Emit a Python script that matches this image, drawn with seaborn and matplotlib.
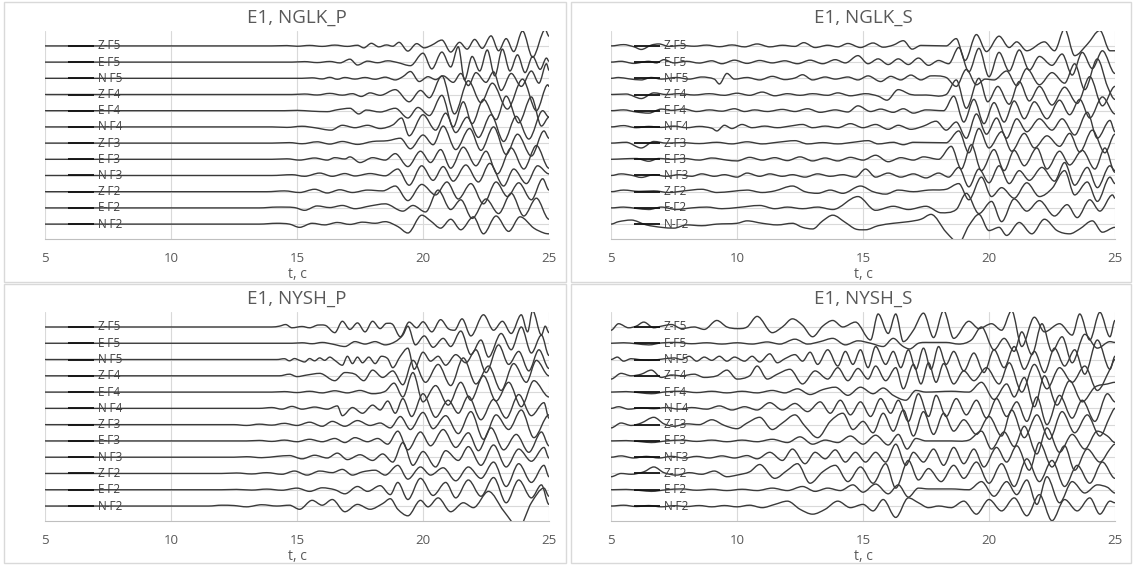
import numpy as np
import pandas as pd
import seaborn as sns
import matplotlib
matplotlib.use("Agg")
import matplotlib.pyplot as plt
from matplotlib.patches import Rectangle, PathPatch
from matplotlib.path import Path

# ---- labels -------------------------------------------------------------
components = ["Z-Г5", "E-Г5", "N-Г5", "Z-Г4", "E-Г4", "N-Г4",
              "Z-Г3", "E-Г3", "N-Г3", "Z-Г2", "E-Г2", "N-Г2"]
titles = ["E1, NGLK_P", "E1, NGLK_S", "E1, NYSH_P", "E1, NYSH_S"]
x_ticks = [5, 10, 15, 20, 25]
x_label = "t, с"

# ---- traces: (time, amplitude in units of trace spacing) ---------------
# E1, NGLK_P
p1_z5 = [(5,0),(14.0,0),(14.6,0.02),(15.0,-0.02),(15.5,0.03),(16.0,-0.03),(16.5,0.05),(17.0,-0.03),(17.4,0.04),(17.65,-0.12),(17.95,0.16),(18.25,-0.06),(18.55,0.06),(18.8,-0.02),(19.05,0.22),(19.4,-0.32),(19.75,0.14),(20.05,-0.12),(20.35,0.05),(20.75,0.36),(21.1,-0.38),(21.45,0.22),(21.75,-0.2),(22.05,0.4),(22.35,-0.15),(22.7,0.62),(23.0,-0.3),(23.3,0.45),(23.6,-0.35),(23.95,0.92),(24.35,-0.7),(24.85,1.0),(25.0,0.6)]
p1_e5 = [(5,0),(14.8,0),(15.3,0.03),(15.8,-0.03),(16.3,0.04),(16.7,-0.05),(17.1,0.18),(17.4,-0.18),(17.8,0.06),(18.2,-0.04),(18.6,0.08),(19.0,-0.03),(19.5,-0.22),(20.0,0.55),(20.35,-0.42),(20.75,0.62),(21.1,-0.3),(21.4,0.95),(21.65,-1.1),(21.95,0.35),(22.25,-0.55),(22.55,0.75),(22.85,-0.85),(23.15,0.8),(23.45,-0.55),(23.75,0.45),(24.05,-0.65),(24.35,0.35),(24.65,-0.45),(24.9,0.25),(25.0,0.05)]
p1_n5 = [(5,0),(15.2,0),(15.6,0.03),(16.0,-0.04),(16.3,0.06),(16.6,-0.06),(16.9,0.05),(17.3,-0.05),(17.7,0.05),(18.1,-0.06),(18.5,0.07),(18.9,-0.1),(19.2,0.1),(19.5,0.42),(19.85,-0.2),(20.2,0.1),(20.5,-0.08),(20.8,0.15),(21.2,-0.25),(21.5,0.3),(21.8,-0.45),(22.1,0.35),(22.5,-0.25),(22.8,0.4),(23.1,-0.75),(23.5,0.3),(23.9,-0.5),(24.3,0.45),(24.6,-0.3),(24.9,0.9),(25.0,0.5)]
p1_z4 = [(5,0),(14.8,0),(15.3,0.03),(15.8,-0.03),(16.3,0.07),(16.8,-0.04),(17.2,0.05),(17.55,-0.12),(17.9,0.1),(18.3,-0.05),(18.9,0.3),(19.45,-0.45),(19.9,0.25),(20.25,-0.2),(20.75,1.15),(21.25,-1.2),(21.8,0.85),(22.3,-0.5),(22.75,0.7),(23.35,-0.9),(23.95,0.95),(24.5,-1.0),(24.95,0.6),(25.0,0.5)]
p1_e4 = [(5,0),(14.5,0),(15.0,0.02),(15.6,-0.03),(16.2,-0.06),(16.6,0.06),(17.1,0.15),(17.45,-0.2),(17.75,0.04),(18.3,-0.08),(18.9,0.15),(19.4,-0.45),(19.8,0.2),(20.25,-0.3),(20.75,0.95),(21.2,-1.0),(21.6,0.55),(21.95,-0.8),(22.4,0.7),(22.9,-0.55),(23.3,0.9),(23.8,-0.75),(24.3,0.85),(24.7,-0.95),(25.0,-0.4)]
p1_n4 = [(5,0),(14.0,0),(14.6,-0.03),(15.2,0.04),(15.7,-0.05),(16.35,-0.2),(16.8,0.1),(17.3,-0.05),(17.8,0.1),(18.3,-0.1),(18.8,0.12),(19.15,0.55),(19.45,-0.55),(20.0,0.75),(20.5,-0.2),(20.9,0.85),(21.3,-0.35),(21.75,0.6),(22.2,-0.65),(22.7,0.75),(23.2,-0.9),(23.7,0.65),(24.2,-0.75),(24.75,1.0),(25.0,0.6)]
p1_z3 = [(5,0),(14.0,0),(14.7,0.03),(15.2,-0.04),(15.8,0.08),(16.3,-0.06),(16.8,0.1),(17.4,-0.08),(18.0,0.1),(18.6,0.15),(19.1,0.3),(19.5,-0.35),(20.0,0.5),(20.4,-0.1),(20.8,1.05),(21.3,-0.4),(21.85,0.9),(22.3,-0.45),(22.8,1.0),(23.3,-0.7),(23.75,0.55),(24.3,-0.8),(24.8,0.75),(25.0,0.3)]
p1_e3 = [(5,0),(14.0,0),(14.6,0.03),(15.1,-0.05),(15.7,0.08),(16.2,-0.05),(16.5,0.1),(16.9,0.02),(17.1,0.15),(17.5,-0.2),(18.0,0.1),(18.5,-0.05),(18.9,0.35),(19.4,-0.45),(19.9,0.5),(20.3,-0.2),(20.7,0.6),(21.1,-0.55),(21.6,0.75),(22.1,-0.4),(22.5,0.5),(22.95,-0.9),(23.5,0.7),(24.0,-0.6),(24.5,0.85),(25.0,-0.55)]
p1_n3 = [(5,0),(14.0,0),(14.8,0.05),(15.3,-0.05),(15.9,0.15),(16.4,-0.05),(16.9,0.12),(17.3,-0.03),(17.9,0.12),(18.5,-0.02),(19.0,0.4),(19.45,-0.6),(19.95,0.6),(20.4,-0.3),(20.8,0.55),(21.2,-0.35),(21.7,0.65),(22.2,-0.4),(22.65,0.75),(23.2,-0.65),(23.6,0.4),(24.1,-0.5),(24.55,0.6),(25.0,0.1)]
p1_z2 = [(5,0),(13.8,0),(14.5,0.05),(15.1,-0.05),(15.7,0.15),(16.2,-0.08),(16.7,0.12),(17.2,-0.05),(17.8,0.1),(18.4,0.05),(18.9,0.35),(19.4,-0.55),(19.95,0.45),(20.5,-0.2),(20.95,0.6),(21.4,-0.45),(21.9,0.5),(22.4,-0.75),(22.9,0.6),(23.35,-0.3),(23.8,0.55),(24.3,-0.5),(24.75,0.8),(25.0,0.1)]
p1_e2 = [(5,0),(13.5,0),(14.2,0.05),(14.9,0.02),(15.3,-0.15),(15.8,0.12),(16.3,0.02),(16.8,0.15),(17.3,-0.05),(17.9,0.12),(18.5,0.25),(19.2,-0.2),(19.6,0.15),(20.1,-0.25),(20.6,1.1),(21.1,-0.1),(21.5,0.5),(21.95,-0.65),(22.5,0.55),(23.0,-0.35),(23.5,0.9),(24.0,-0.5),(24.5,0.6),(25.0,-0.7)]
p1_n2 = [(5,0),(13.5,0),(14.2,0.05),(14.7,0.0),(15.1,-0.2),(15.6,0.05),(16.1,-0.05),(16.6,0.1),(17.1,-0.02),(17.6,0.12),(18.1,0.05),(18.5,0.15),(19.0,-0.15),(19.4,-0.55),(19.95,0.55),(20.3,0.2),(20.7,-0.25),(21.1,0.3),(21.5,-0.35),(22.0,0.45),(22.4,-0.6),(22.9,0.5),(23.4,-0.45),(23.85,0.45),(24.4,-0.25),(24.8,-0.55),(25.0,-0.6)]

# E1, NGLK_S
p2_z5 = [(5,0),(5.5,0.08),(5.9,-0.05),(6.2,-0.22),(6.6,0.05),(6.9,0.12),(7.3,-0.03),(7.8,0.03),(8.3,-0.02),(8.8,0.05),(9.3,-0.05),(9.8,0.06),(10.3,-0.06),(10.8,0.12),(11.3,-0.06),(11.8,0.04),(12.3,-0.03),(12.65,0.2),(13.1,-0.1),(13.6,0.04),(14.0,-0.06),(14.4,0.15),(14.9,-0.1),(15.4,0.18),(15.8,-0.08),(16.2,0.05),(16.6,0.32),(16.95,-0.2),(17.3,0.03),(18.3,0.0),(18.7,0.45),(19.05,-0.9),(19.5,0.7),(19.9,-0.35),(20.4,0.6),(20.8,-0.1),(21.1,0.25),(21.5,-0.3),(22.2,0.25),(22.6,-0.3),(23.0,1.05),(23.4,-0.6),(23.9,0.1),(24.4,0.95),(24.8,-0.3),(25.0,-0.3)]
p2_e5 = [(5,0),(5.4,0.05),(5.9,-0.08),(6.5,0.05),(6.8,-0.05),(7.1,0.15),(7.5,-0.05),(8.0,0.05),(8.5,-0.06),(9.0,0.08),(9.4,-0.1),(9.9,0.12),(10.4,-0.08),(10.9,0.1),(11.4,-0.05),(11.9,0.08),(12.4,-0.1),(12.9,0.12),(13.4,-0.1),(13.9,0.15),(14.3,-0.05),(14.8,0.4),(15.2,-0.1),(15.6,0.2),(16.0,-0.15),(16.4,0.2),(16.8,-0.15),(17.2,0.25),(17.6,-0.2),(18.0,0.1),(18.4,-0.1),(18.8,0.9),(19.2,-0.6),(19.6,0.85),(20.0,-0.9),(20.4,0.6),(20.8,-0.55),(21.2,0.75),(21.6,-0.5),(22.0,0.35),(22.5,-0.2),(22.9,0.5),(23.3,-0.8),(23.7,0.6),(24.1,-0.4),(24.5,0.7),(25.0,-0.7)]
p2_n5 = [(5,0),(5.3,0.05),(5.7,-0.03),(6.2,-0.1),(6.6,0.05),(7.0,-0.05),(7.6,0.05),(8.1,-0.05),(8.6,0.08),(9.1,-0.05),(9.3,-0.35),(9.6,0.3),(9.9,-0.05),(10.4,0.05),(10.9,-0.1),(11.4,0.12),(11.9,-0.08),(12.3,0.02),(12.6,0.22),(13.0,-0.1),(13.5,0.08),(13.9,-0.05),(14.4,0.08),(14.8,-0.1),(15.2,0.15),(15.7,-0.2),(16.1,0.12),(16.5,-0.1),(16.9,0.2),(17.3,-0.1),(17.7,0.15),(18.3,0.05),(18.7,-0.5),(19.1,0.55),(19.5,-0.4),(19.85,-0.05),(20.2,-0.1),(20.7,0.45),(21.1,-0.45),(21.5,0.6),(22.0,-0.4),(22.5,0.35),(23.0,-0.3),(23.4,0.9),(23.8,-0.7),(24.3,1.2),(24.7,-0.5),(25.0,-1.3)]
p2_z4 = [(5,0),(5.6,0.03),(6.2,-0.25),(6.7,0.1),(7.2,0.0),(7.7,0.05),(8.3,-0.03),(8.9,0.05),(9.5,-0.05),(10.0,0.08),(10.5,-0.05),(11.0,0.15),(11.5,-0.08),(12.0,0.05),(12.5,-0.05),(13.0,0.05),(13.6,-0.05),(14.0,0.1),(14.5,-0.08),(15.1,0.05),(15.6,-0.1),(15.95,-0.35),(16.4,0.3),(16.9,0.0),(17.5,-0.03),(18.3,0.0),(18.7,0.9),(19.1,-0.85),(19.6,1.0),(19.95,-0.45),(20.35,0.5),(20.8,-0.6),(21.2,0.8),(21.6,-0.4),(22.0,0.5),(22.5,-0.65),(23.0,0.45),(23.5,-0.55),(24.0,1.1),(24.5,-0.7),(25.0,0.5)]
p2_e4 = [(5,0),(5.5,0.05),(6.0,-0.08),(6.5,-0.15),(7.0,0.1),(7.4,0.02),(7.9,0.1),(8.4,-0.05),(8.9,0.05),(9.4,-0.03),(9.9,0.12),(10.3,-0.05),(10.7,0.05),(11.2,-0.05),(11.8,0.08),(12.3,-0.05),(12.8,0.12),(13.3,-0.1),(13.9,0.05),(14.4,-0.08),(14.8,0.3),(15.3,-0.05),(15.7,0.1),(16.2,-0.1),(16.6,0.12),(17.0,-0.15),(17.5,0.05),(18.2,0.0),(18.6,0.9),(19.0,-0.7),(19.4,0.7),(19.8,-0.8),(20.2,0.5),(20.6,-0.7),(21.0,0.6),(21.4,-0.5),(21.8,0.55),(22.3,-0.5),(22.8,0.65),(23.2,-0.25),(23.6,0.7),(24.0,-0.45),(24.5,0.85),(25.0,-0.2)]
p2_n4 = [(5,0),(5.5,0.08),(6.0,-0.05),(6.5,0.03),(7.0,-0.03),(7.5,0.05),(8.0,-0.05),(8.5,0.03),(9.0,-0.08),(9.2,-0.25),(9.5,0.1),(9.8,-0.1),(10.2,0.15),(10.6,-0.05),(11.1,0.05),(11.6,-0.05),(12.1,0.05),(12.6,0.15),(13.0,-0.05),(13.5,0.05),(14.0,-0.05),(14.5,0.2),(15.0,-0.05),(15.5,0.15),(16.0,-0.15),(16.4,0.1),(16.9,-0.15),(17.4,0.05),(17.9,0.35),(18.3,-0.2),(18.7,0.3),(19.1,-0.7),(19.5,0.8),(19.9,-0.45),(20.3,0.55),(20.7,-0.7),(21.1,0.5),(21.5,-0.3),(22.0,0.5),(22.5,-0.2),(22.9,0.5),(23.4,-0.5),(23.9,0.9),(24.3,-0.7),(24.8,0.4),(25.0,-0.3)]
p2_z3 = [(5,0),(5.6,0.05),(6.2,-0.3),(6.7,0.1),(7.2,0.0),(7.8,0.03),(8.5,-0.03),(9.2,0.05),(9.8,-0.05),(10.4,0.08),(11.0,-0.05),(11.6,0.05),(12.3,0.15),(12.8,-0.05),(13.4,0.03),(14.0,-0.05),(14.6,0.05),(15.2,0.15),(15.6,-0.05),(16.2,0.05),(16.6,-0.1),(17.0,0.05),(18.3,0.02),(18.8,0.75),(19.2,-0.6),(19.6,0.9),(20.0,-0.3),(20.5,0.7),(20.9,-0.5),(21.4,0.6),(21.8,-0.3),(22.3,0.45),(22.8,-0.2),(23.2,0.6),(23.6,-0.55),(24.1,0.8),(24.6,-0.6),(25.0,0.55)]
p2_e3 = [(5,0),(5.5,0.03),(6.0,0.05),(6.5,-0.12),(6.9,0.05),(7.4,0.0),(7.9,0.05),(8.5,-0.05),(9.0,0.08),(9.6,-0.05),(10.0,-0.1),(10.5,0.12),(11.0,-0.05),(11.5,0.1),(12.0,-0.08),(12.5,0.15),(13.0,-0.1),(13.5,0.08),(14.0,-0.1),(14.5,0.12),(15.0,-0.05),(15.5,0.25),(16.0,-0.15),(16.5,0.1),(17.0,-0.05),(17.4,0.15),(18.0,0.0),(18.5,0.8),(18.9,-0.6),(19.3,0.9),(19.7,-0.7),(20.2,0.6),(20.6,-0.7),(21.0,0.55),(21.4,-0.4),(21.9,0.7),(22.3,-0.6),(22.8,0.5),(23.2,-0.35),(23.7,0.55),(24.2,-0.6),(24.6,0.7),(25.0,-0.8)]
p2_n3 = [(5,0),(5.4,0.1),(5.8,0.02),(6.2,-0.12),(6.7,0.05),(7.2,-0.05),(7.7,0.05),(8.2,-0.05),(8.6,0.1),(9.1,-0.05),(9.5,0.05),(10.0,-0.1),(10.4,0.15),(10.9,-0.05),(11.3,0.1),(11.8,-0.05),(12.2,0.05),(12.7,-0.1),(13.2,0.1),(13.7,-0.05),(14.2,0.05),(14.7,-0.1),(15.1,0.4),(15.5,-0.1),(16.0,0.15),(16.5,-0.1),(17.0,0.1),(17.5,-0.15),(18.0,0.15),(18.4,-0.1),(18.8,0.5),(19.2,-0.7),(19.6,0.4),(20.0,-0.45),(20.4,0.6),(20.8,-0.5),(21.2,0.3),(21.6,-0.3),(22.1,0.5),(22.6,-0.35),(23.0,0.8),(23.4,-0.6),(23.9,0.5),(24.3,-0.75),(24.8,0.6),(25.0,0.3)]
p2_z2 = [(5,0),(5.5,0.1),(6.1,0.02),(6.7,0.05),(7.3,-0.05),(7.9,0.05),(8.6,0.15),(9.2,-0.05),(9.8,0.02),(10.4,0.1),(11.0,-0.05),(11.5,0.05),(12.2,0.35),(12.7,0.0),(13.2,-0.1),(13.7,0.1),(14.2,-0.1),(14.9,0.35),(15.4,0.0),(15.9,-0.15),(16.4,0.1),(17.0,0.0),(17.6,0.1),(18.3,0.15),(18.8,0.5),(19.2,-0.5),(19.7,0.9),(20.1,-0.3),(20.5,0.25),(21.0,-0.4),(21.5,0.55),(22.0,-0.3),(22.5,0.2),(23.0,1.3),(23.4,-0.2),(23.9,0.6),(24.3,-0.6),(24.8,0.9),(25.0,0.5)]
p2_e2 = [(5,0),(5.5,0.05),(6.0,-0.03),(6.5,-0.1),(7.0,0.05),(7.6,-0.1),(8.2,0.0),(8.8,0.05),(9.4,-0.05),(10.0,0.02),(10.9,0.15),(11.5,-0.05),(12.0,0.05),(12.6,-0.05),(13.2,0.05),(13.8,-0.1),(14.8,0.7),(15.5,-0.15),(16.2,0.1),(16.8,-0.1),(17.5,0.1),(18.1,-0.3),(18.7,-0.1),(19.1,0.9),(19.6,-0.35),(20.1,0.4),(20.5,-0.85),(21.0,0.55),(21.5,-0.2),(22.0,0.45),(22.6,-0.5),(23.1,0.2),(23.5,-0.6),(24.0,0.5),(24.4,-0.2),(24.9,0.8),(25.0,0.6)]
p2_n2 = [(5,0),(5.3,0.15),(5.8,0.25),(6.4,-0.05),(7.0,-0.2),(7.5,-0.25),(8.0,-0.05),(8.6,-0.1),(9.2,0.0),(10.0,0.05),(10.4,0.2),(11.0,0.05),(11.6,-0.05),(12.2,0.05),(12.6,-0.2),(13.0,-0.3),(13.4,0.2),(13.8,0.55),(14.3,0.1),(14.7,-0.3),(15.1,-0.35),(15.6,-0.1),(16.2,0.05),(16.8,0.15),(17.3,0.3),(17.7,0.6),(18.3,-0.5),(18.8,-1.15),(19.2,-0.1),(19.6,0.6),(20.0,-0.4),(20.4,-0.2),(20.7,-0.7),(21.2,0.1),(21.7,-0.6),(22.2,0.3),(22.7,-0.4),(23.2,-0.6),(23.6,-0.3),(24.1,0.2),(24.5,-0.5),(25.0,-0.2)]

# E1, NYSH_P
p3_z5 = [(5,0),(14.0,0),(14.3,0.05),(14.55,0.15),(14.8,-0.05),(15.2,0.03),(15.5,-0.05),(15.85,0.12),(16.15,0.08),(16.5,-0.35),(16.8,0.35),(17.1,-0.15),(17.4,0.25),(17.7,-0.3),(18.0,0.35),(18.3,-0.1),(18.55,0.22),(18.8,0.15),(19.1,-0.6),(19.45,0.3),(19.75,-0.05),(20.0,0.32),(20.35,-0.3),(20.7,0.45),(21.0,-0.1),(21.25,-0.2),(21.55,0.5),(21.9,-0.55),(22.4,0.75),(22.8,-0.2),(23.15,0.35),(23.5,-0.4),(23.9,0.75),(24.15,-0.3),(24.35,1.0),(24.7,-0.5),(24.85,0.05),(25.0,-0.35)]
p3_e5 = [(5,0),(14.8,0),(15.2,0.03),(15.6,-0.03),(16.0,0.05),(16.4,-0.05),(16.9,-0.2),(17.3,0.1),(17.7,-0.05),(18.1,0.1),(18.5,-0.1),(18.9,0.1),(19.2,0.5),(19.4,1.05),(19.7,-0.1),(20.05,0.45),(20.4,-0.25),(20.8,0.3),(21.1,-0.2),(21.5,0.75),(21.9,-0.7),(22.3,0.2),(22.6,-0.85),(23.1,0.6),(23.5,-0.4),(23.9,1.0),(24.3,-0.6),(24.7,0.5),(25.0,-0.75)]
p3_n5 = [(5,0),(14.2,0),(14.5,0.05),(14.7,-0.08),(14.9,0.06),(15.1,-0.05),(15.3,-0.15),(15.5,0.06),(15.7,-0.08),(15.9,0.1),(16.1,-0.05),(16.3,0.15),(16.5,-0.05),(16.8,-0.35),(17.0,0.2),(17.2,-0.25),(17.4,0.15),(17.6,-0.2),(17.85,0.15),(18.1,-0.25),(18.35,0.2),(18.6,0.05),(18.8,-0.5),(19.1,0.2),(19.4,0.7),(19.65,-0.6),(20.0,0.45),(20.3,-0.1),(20.6,0.2),(20.9,-0.35),(21.3,0.3),(21.7,-0.2),(22.1,0.6),(22.5,-0.8),(23.0,0.9),(23.4,-0.3),(23.8,0.5),(24.2,-0.7),(24.6,0.6),(25.0,-0.55)]
p3_z4 = [(5,0),(14.3,0),(14.7,0.1),(15.0,-0.05),(15.4,0.05),(15.9,0.15),(16.5,-0.3),(16.9,0.2),(17.3,0.1),(17.65,-0.3),(18.0,0.35),(18.4,-0.1),(18.8,0.3),(19.2,-0.55),(19.6,0.95),(20.1,-0.4),(20.6,0.7),(21.1,-0.6),(21.6,1.1),(22.1,-0.5),(22.6,0.6),(23.1,-0.9),(23.6,0.75),(24.1,-0.4),(24.5,0.95),(25.0,0.0)]
p3_e4 = [(5,0),(14.0,0),(14.5,0.03),(15.0,-0.03),(15.5,0.05),(16.0,-0.05),(16.5,0.08),(17.0,-0.05),(17.5,0.1),(18.0,-0.1),(18.5,0.05),(18.85,0.55),(19.2,-0.3),(19.6,1.2),(20.0,-0.6),(20.5,0.4),(21.0,-0.8),(21.5,0.6),(21.9,-0.5),(22.4,1.0),(22.9,-0.55),(23.4,0.6),(23.9,-0.9),(24.4,0.7),(25.0,-0.3)]
p3_n4 = [(5,0),(13.5,0),(14.0,0.05),(14.4,-0.05),(14.8,0.12),(15.2,-0.05),(15.7,0.08),(16.2,-0.05),(16.6,0.15),(16.8,-0.45),(17.2,0.05),(17.6,-0.3),(18.0,0.2),(18.3,-0.1),(18.6,0.45),(18.9,-0.3),(19.2,0.6),(19.55,-0.5),(20.0,0.9),(20.5,-0.55),(21.0,0.5),(21.4,-0.3),(21.8,0.75),(22.3,-0.7),(22.8,0.55),(23.3,-0.6),(23.8,0.85),(24.3,-0.45),(24.8,0.35),(25.0,-0.6)]
p3_z3 = [(5,0),(12.5,0),(13.0,-0.05),(13.5,0.03),(14.0,-0.03),(14.5,0.08),(15.0,-0.05),(15.5,0.15),(16.0,-0.1),(16.4,0.2),(16.9,-0.1),(17.4,0.25),(17.9,-0.05),(18.3,0.1),(18.7,-0.2),(19.1,0.5),(19.5,-0.3),(20.0,0.75),(20.4,-0.25),(20.9,0.55),(21.4,-0.55),(21.9,0.8),(22.4,-0.9),(22.9,0.6),(23.4,-0.3),(23.9,0.9),(24.4,-0.8),(25.0,0.6)]
p3_e3 = [(5,0),(13.0,0),(13.5,0.03),(14.0,-0.03),(14.5,0.05),(15.0,-0.05),(15.5,0.1),(16.0,-0.05),(16.5,0.15),(16.9,-0.1),(17.3,0.2),(17.8,-0.05),(18.2,0.15),(18.6,-0.2),(19.0,0.6),(19.4,-0.55),(19.9,0.55),(20.3,-0.3),(20.8,0.7),(21.3,-0.4),(21.8,0.5),(22.2,-0.6),(22.7,0.8),(23.2,-0.55),(23.7,0.4),(24.2,-0.7),(24.7,0.55),(25.0,-0.3)]
p3_n3 = [(5,0),(12.5,0),(13.0,0.03),(13.6,-0.03),(14.2,0.05),(14.7,0.1),(15.2,-0.1),(15.7,0.12),(16.2,-0.05),(16.6,0.25),(17.0,-0.15),(17.5,0.15),(18.0,-0.2),(18.4,0.2),(18.8,-0.3),(19.2,0.9),(19.6,-0.5),(20.0,0.35),(20.5,-0.6),(20.9,0.4),(21.4,-0.2),(21.8,0.65),(22.3,-0.5),(22.8,0.75),(23.3,-0.6),(23.8,0.5),(24.3,-0.25),(24.8,0.6),(25.0,-0.05)]
p3_z2 = [(5,0),(12.0,0),(12.6,0.03),(13.2,-0.03),(13.8,0.05),(14.4,-0.05),(14.9,0.15),(15.4,-0.1),(15.9,0.15),(16.4,0.05),(16.8,0.25),(17.2,-0.1),(17.6,0.1),(18.1,0.2),(18.5,-0.1),(19.0,0.5),(19.4,-0.35),(19.9,0.4),(20.3,-0.1),(20.8,0.35),(21.3,-0.45),(21.8,0.4),(22.3,-0.3),(22.8,0.7),(23.3,-0.8),(23.8,0.6),(24.3,-0.55),(24.8,0.5),(25.0,-0.2)]
p3_e2 = [(5,0),(12.0,0),(12.6,0.02),(13.2,-0.02),(13.8,0.04),(14.4,-0.03),(15.0,0.1),(15.5,-0.1),(16.0,0.12),(16.5,0.0),(16.9,-0.25),(17.4,0.2),(17.8,-0.1),(18.3,0.25),(18.7,-0.3),(19.0,0.45),(19.4,-0.6),(19.9,0.7),(20.4,-0.35),(20.9,0.45),(21.3,-0.5),(21.8,0.6),(22.3,-0.4),(22.8,0.75),(23.3,-0.8),(23.8,0.6),(24.3,-0.5),(24.7,0.3),(25.0,-0.9)]
p3_n2 = [(5,0),(11.5,0),(12.0,0.05),(12.5,0.03),(13.0,-0.05),(13.6,0.08),(14.2,0.0),(14.7,0.05),(15.1,-0.2),(15.6,0.35),(16.0,0.05),(16.4,0.4),(16.9,-0.35),(17.4,0.1),(17.9,-0.2),(18.4,0.15),(18.7,0.45),(19.0,-0.2),(19.4,-0.6),(19.9,0.35),(20.2,-0.05),(20.6,0.5),(21.1,-0.35),(21.6,0.2),(22.0,-0.1),(22.6,0.9),(23.2,-0.3),(23.8,-1.3),(24.3,0.2),(24.8,1.1),(25.0,0.6)]

# E1, NYSH_S
p4_z5 = [(5,-0.2),(5.3,0.2),(5.7,-0.05),(6.0,0.05),(6.3,0.3),(6.7,-0.05),(7.0,0.05),(7.4,0.15),(7.8,-0.1),(8.3,0.0),(8.7,-0.15),(9.2,0.4),(9.6,0.0),(10.0,-0.1),(10.4,0.0),(10.8,0.65),(11.4,-0.35),(11.8,0.0),(12.2,0.5),(12.6,0.1),(13.0,-0.6),(13.4,0.05),(13.8,0.4),(14.2,0.0),(14.7,0.3),(15.3,-0.8),(15.6,0.8),(16.0,-0.4),(16.3,0.8),(16.6,-0.9),(17.0,-0.2),(17.4,0.85),(17.8,-0.65),(18.2,1.0),(18.6,-0.7),(19.2,0.35),(19.6,-0.1),(20.1,0.2),(20.5,-0.2),(20.9,1.0),(21.3,-1.2),(21.8,0.6),(22.2,-0.3),(22.8,0.2),(23.3,-0.5),(23.6,0.8),(24.0,-0.8),(24.4,0.9),(24.8,-0.6),(25.0,0.4)]
p4_e5 = [(5,0),(5.5,0.03),(6.0,-0.03),(6.5,-0.1),(7.0,0.02),(7.6,0.05),(8.2,-0.03),(8.8,0.03),(9.4,-0.05),(10.0,0.03),(10.6,-0.05),(11.2,0.08),(11.7,-0.05),(12.3,0.25),(12.8,-0.05),(13.3,0.1),(13.8,0.3),(14.3,-0.1),(14.8,0.15),(15.3,0.0),(15.8,-0.2),(16.2,0.3),(16.55,-0.15),(16.85,-0.35),(17.2,0.0),(17.6,0.05),(18.3,0.05),(18.8,-0.05),(19.3,0.2),(19.7,1.0),(20.2,-0.4),(20.6,0.3),(21.0,-0.5),(21.3,0.7),(21.7,-0.7),(22.1,1.2),(22.5,-0.5),(22.9,0.4),(23.3,-1.2),(23.8,0.55),(24.3,-0.3),(24.8,0.1),(25.0,0.05)]
p4_n5 = [(5,0),(5.25,0.15),(5.5,-0.1),(5.8,0.05),(6.1,0.0),(6.5,-0.05),(7.0,0.02),(7.5,0.1),(7.8,0.0),(8.1,0.2),(8.4,-0.1),(8.7,0.15),(9.0,-0.05),(9.3,0.2),(9.6,-0.1),(9.9,0.15),(10.3,-0.1),(10.6,0.2),(10.9,-0.15),(11.3,0.35),(11.6,-0.2),(11.9,0.05),(12.3,0.3),(12.6,-0.1),(12.9,0.45),(13.2,-0.3),(13.6,0.6),(14.0,-0.4),(14.3,0.5),(14.6,-0.3),(14.9,0.6),(15.2,-0.5),(15.5,0.8),(15.9,-0.3),(16.2,0.5),(16.5,-0.5),(16.8,0.6),(17.1,-0.6),(17.4,0.7),(17.7,-0.6),(18.0,0.8),(18.3,-0.3),(18.6,0.5),(19.0,-0.7),(19.4,0.4),(19.8,-0.8),(20.2,0.6),(20.6,-0.5),(21.0,0.8),(21.4,-0.6),(21.8,0.5),(22.2,-0.8),(22.6,0.7),(23.0,-0.4),(23.4,0.6),(23.8,-0.9),(24.3,1.2),(24.8,-0.6),(25.0,0.2)]
p4_z4 = [(5,-0.2),(5.4,0.15),(5.8,0.0),(6.2,0.1),(6.6,0.35),(7.0,-0.1),(7.4,0.05),(7.8,0.0),(8.3,0.1),(8.7,-0.1),(9.2,0.0),(9.6,0.35),(10.0,-0.2),(10.5,0.0),(10.8,0.6),(11.2,-0.2),(11.6,0.1),(12.1,0.4),(12.6,-0.5),(13.1,0.3),(13.6,-0.2),(14.0,0.5),(14.4,-0.3),(14.8,0.45),(15.2,-0.2),(15.5,0.6),(15.9,-0.3),(16.3,0.5),(16.6,-0.8),(17.0,0.7),(17.3,-0.5),(17.6,0.8),(17.9,-0.4),(18.2,0.75),(18.6,-0.5),(19.0,0.3),(19.4,-0.3),(19.9,0.5),(20.4,-0.5),(20.8,0.8),(21.3,-1.0),(21.8,0.7),(22.3,-0.8),(22.8,0.5),(23.3,-0.4),(23.8,0.6),(24.3,-0.9),(24.8,0.4),(25.0,1.0)]
p4_e4 = [(5,0),(5.6,0.03),(6.2,-0.05),(6.6,-0.1),(7.2,0.02),(7.8,0.05),(8.4,-0.03),(9.0,0.05),(9.6,-0.05),(10.2,0.05),(10.8,-0.05),(11.4,0.1),(11.9,-0.05),(12.4,0.2),(12.9,-0.15),(13.4,0.15),(13.9,0.3),(14.4,-0.2),(14.9,0.3),(15.4,-0.1),(15.8,0.25),(16.2,-0.2),(16.7,-0.5),(17.1,0.1),(17.5,0.0),(18.5,0.05),(19.2,0.0),(19.7,0.6),(20.2,-0.45),(20.7,0.5),(21.0,-0.3),(21.4,0.9),(21.8,-0.9),(22.2,1.0),(22.7,-0.8),(23.2,0.7),(23.7,-0.6),(24.2,0.3),(24.7,0.5),(25.0,0.6)]
p4_n4 = [(5,0),(5.3,0.1),(5.7,-0.05),(6.2,0.03),(6.7,-0.02),(7.2,0.05),(7.7,-0.05),(8.2,0.05),(8.8,-0.05),(9.3,0.15),(9.8,-0.1),(10.3,0.1),(10.8,-0.1),(11.3,0.35),(11.8,-0.1),(12.3,0.3),(12.8,-0.2),(13.3,0.4),(13.7,-0.3),(14.1,0.5),(14.5,-0.4),(14.9,0.4),(15.3,-0.5),(15.7,0.6),(16.1,-0.3),(16.4,0.5),(16.8,-0.8),(17.2,0.9),(17.6,-0.5),(17.9,0.8),(18.3,-0.5),(18.7,0.6),(19.1,-0.4),(19.5,0.5),(19.9,-0.6),(20.3,0.6),(20.7,-0.5),(21.1,0.4),(21.5,-0.8),(21.9,0.7),(22.3,-1.0),(22.8,0.8),(23.3,-0.6),(23.7,0.5),(24.2,-0.8),(24.7,0.9),(25.0,0.4)]
p4_z3 = [(5,-0.2),(5.4,0.1),(5.8,-0.05),(6.2,0.1),(6.7,0.45),(7.1,0.05),(7.5,-0.1),(8.0,0.05),(8.5,0.0),(9.0,0.3),(9.5,-0.05),(10.0,-0.25),(10.4,0.1),(10.9,0.45),(11.4,-0.3),(11.8,0.1),(12.3,0.6),(12.7,-0.1),(13.2,-0.8),(13.7,0.2),(14.2,0.7),(14.6,-0.3),(15.0,0.2),(15.4,-0.5),(15.8,0.7),(16.2,-0.4),(16.6,0.9),(17.0,-0.7),(17.4,0.8),(17.8,-0.6),(18.2,0.7),(18.6,-0.4),(19.0,0.3),(19.5,-0.6),(20.0,0.5),(20.5,-0.7),(20.9,0.9),(21.4,-0.8),(21.9,0.6),(22.4,-0.9),(22.9,0.8),(23.4,-0.5),(23.9,0.6),(24.4,-0.7),(24.8,0.5),(25.0,1.0)]
p4_e3 = [(5,0),(5.6,0.02),(6.2,-0.05),(6.6,-0.1),(7.2,0.0),(7.8,0.05),(8.4,-0.03),(9.0,0.05),(9.6,-0.05),(10.2,0.05),(10.8,-0.05),(11.4,0.1),(12.0,-0.1),(12.5,0.25),(13.0,-0.2),(13.5,0.05),(14.0,-0.1),(14.5,0.3),(15.0,-0.2),(15.5,0.35),(16.0,-0.25),(16.4,0.4),(16.75,-0.5),(17.1,0.15),(17.5,0.0),(18.5,0.0),(19.2,0.05),(19.7,0.6),(20.1,-0.5),(20.6,0.55),(21.0,-0.35),(21.4,0.9),(21.9,-0.8),(22.3,0.8),(22.8,-0.7),(23.3,0.4),(23.8,-0.5),(24.3,0.6),(24.7,0.3),(25.0,-0.1)]
p4_n3 = [(5,0),(5.4,0.08),(5.9,-0.05),(6.4,0.05),(6.9,-0.05),(7.4,0.05),(7.9,-0.05),(8.4,0.05),(8.9,-0.05),(9.4,0.08),(9.9,-0.05),(10.4,0.1),(10.8,-0.1),(11.3,0.3),(11.8,-0.2),(12.2,0.5),(12.7,-0.4),(13.1,0.3),(13.5,-0.1),(13.9,0.45),(14.3,-0.3),(14.7,0.3),(15.1,-0.3),(15.5,0.3),(15.9,-0.3),(16.3,0.8),(16.7,-0.5),(17.0,0.3),(17.4,-0.3),(17.8,0.5),(18.2,-0.5),(18.6,0.6),(19.0,-0.4),(19.4,0.5),(19.8,-0.6),(20.3,0.6),(20.7,-0.3),(21.1,0.7),(21.6,-0.8),(22.0,0.9),(22.5,-0.6),(23.0,0.7),(23.4,-0.8),(23.9,0.5),(24.4,-0.3),(24.8,0.5),(25.0,0.8)]
p4_z2 = [(5,-0.2),(5.4,0.0),(5.8,-0.05),(6.3,0.1),(6.7,0.4),(7.1,0.05),(7.6,-0.1),(8.1,0.05),(8.6,-0.05),(9.1,0.15),(9.6,-0.2),(10.0,-0.1),(10.5,0.1),(10.9,0.55),(11.5,-0.3),(12.0,0.2),(12.4,0.6),(12.9,-0.6),(13.4,0.1),(13.9,0.5),(14.4,-0.5),(14.9,0.4),(15.4,-0.6),(15.9,0.6),(16.3,-0.9),(16.8,0.8),(17.2,-0.4),(17.6,0.3),(18.1,-0.5),(18.6,0.5),(19.0,-0.3),(19.5,0.7),(20.0,-0.6),(20.5,0.6),(21.0,-0.8),(21.5,0.9),(22.0,-0.5),(22.5,0.8),(23.0,-0.8),(23.5,0.5),(24.0,-0.6),(24.5,0.7),(25.0,-0.3)]
p4_e2 = [(5,0),(5.6,0.02),(6.2,-0.05),(6.6,-0.1),(7.2,0.0),(7.8,0.05),(8.4,-0.03),(9.0,0.03),(9.6,-0.05),(10.2,0.03),(10.8,-0.05),(11.4,0.1),(12.0,-0.05),(12.6,0.2),(13.1,-0.1),(13.6,0.1),(14.1,-0.05),(14.6,0.3),(15.0,-0.15),(15.5,0.35),(16.0,-0.25),(16.4,0.3),(16.8,-0.45),(17.2,0.1),(17.6,0.05),(18.5,0.05),(19.2,0.0),(19.7,0.5),(20.2,-0.4),(20.7,0.5),(21.1,-0.3),(21.5,0.6),(21.9,-0.9),(22.3,0.8),(22.8,-0.8),(23.3,0.5),(23.8,-0.2),(24.3,0.3),(24.7,0.15),(25.0,-0.2)]
p4_n2 = [(5,0),(5.5,0.05),(6.0,-0.03),(6.5,0.03),(7.0,-0.05),(7.5,0.02),(8.0,-0.03),(8.5,0.03),(9.0,-0.05),(9.5,0.03),(10.0,-0.05),(10.5,0.05),(11.0,-0.1),(11.5,0.1),(12.0,0.3),(12.5,-0.2),(13.0,-0.5),(13.5,-0.2),(14.0,0.3),(14.5,-0.1),(15.0,0.1),(15.4,-0.3),(15.8,0.4),(16.3,-0.7),(16.8,0.5),(17.2,0.2),(17.6,-0.1),(18.0,0.0),(18.5,-0.1),(19.0,0.3),(19.5,-0.5),(20.0,0.4),(20.5,-0.3),(21.0,0.5),(21.5,-0.6),(22.0,0.7),(22.5,-0.9),(23.0,0.4),(23.5,-0.3),(24.0,0.5),(24.4,-0.5),(24.8,0.3),(25.0,0.2)]

panel_traces = [
    [p1_z5, p1_e5, p1_n5, p1_z4, p1_e4, p1_n4, p1_z3, p1_e3, p1_n3, p1_z2, p1_e2, p1_n2],
    [p2_z5, p2_e5, p2_n5, p2_z4, p2_e4, p2_n4, p2_z3, p2_e3, p2_n3, p2_z2, p2_e2, p2_n2],
    [p3_z5, p3_e5, p3_n5, p3_z4, p3_e4, p3_n4, p3_z3, p3_e3, p3_n3, p3_z2, p3_e2, p3_n2],
    [p4_z5, p4_e5, p4_n5, p4_z4, p4_e4, p4_n4, p4_z3, p4_e3, p4_n3, p4_z2, p4_e2, p4_n2],
]

# ---- long table: each trace shifted to its own baseline -----------------
n_tr = len(components)
baselines = [n_tr - i for i in range(n_tr)]
rows = []
for p, traces in enumerate(panel_traces):
    for i, tr in enumerate(traces):
        for t, a in tr:
            rows.append((p, components[i], t, baselines[i] + a))
df = pd.DataFrame(rows, columns=["panel", "trace", "t", "y"])


def smoothed(line, ax):
    """Replace a polyline by a smooth Bezier path through the same points
    (the 'smoothed line' rendering of spreadsheet charts)."""
    x = np.asarray(line.get_xdata(), float)
    y = np.asarray(line.get_ydata(), float)
    n = len(x)
    slope = np.zeros(n)
    for i in range(1, n - 1):
        d0 = y[i] - y[i - 1]
        d1 = y[i + 1] - y[i]
        if d0 * d1 > 0:
            slope[i] = (y[i + 1] - y[i - 1]) / (x[i + 1] - x[i - 1])
    verts = [(x[0], y[0])]
    codes = [Path.MOVETO]
    for i in range(n - 1):
        h = (x[i + 1] - x[i]) / 3.0
        verts += [(x[i] + h, y[i] + slope[i] * h),
                  (x[i + 1] - h, y[i + 1] - slope[i + 1] * h),
                  (x[i + 1], y[i + 1])]
        codes += [Path.CURVE4] * 3
    patch = PathPatch(Path(verts, codes), facecolor="none",
                      edgecolor=line.get_color(), linewidth=line.get_linewidth(),
                      transform=ax.transData, zorder=line.get_zorder(),
                      capstyle="round", joinstyle="round")
    ax.add_patch(patch)
    line.set_visible(False)


# ---- style ---------------------------------------------------------------
sns.set_style("white")
plt.rcParams["font.family"] = ["Open Sans", "DejaVu Sans"]
text_grey = "#595959"
grid_grey = "#d9d9d9"
line_col = "#3a3a3a"

fig = plt.figure(figsize=(11.34, 5.65), dpi=100)
W, H = 1134, 565
boxes = [(45, 31, 549, 239), (611, 31, 1115, 239),
         (45, 312, 549, 521), (611, 312, 1115, 521)]
frames = [(4, 2, 566, 282), (571, 2, 1131, 282),
          (4, 284, 566, 563), (571, 284, 1131, 563)]

for fx0, fy0, fx1, fy1 in frames:
    fig.add_artist(Rectangle((fx0 / W, 1 - fy1 / H), (fx1 - fx0) / W, (fy1 - fy0) / H,
                             transform=fig.transFigure, fill=False,
                             edgecolor=grid_grey, linewidth=1.0))

for k, (x0, y0, x1, y1) in enumerate(boxes):
    ax = fig.add_axes([x0 / W, 1 - y1 / H, (x1 - x0) / W, (y1 - y0) / H])
    sub = df[df["panel"] == k]
    sns.lineplot(data=sub, x="t", y="y", units="trace", estimator=None,
                 sort=False, color=line_col, linewidth=1.0, ax=ax, legend=False)
    for ln in list(ax.lines):
        smoothed(ln, ax)

    # short dark key segment + component name on each baseline
    ax.hlines(baselines, 5.9, 6.95, color="#111111", linewidth=1.3, zorder=3)
    for i, name in enumerate(components):
        ax.text(7.08, baselines[i], name, ha="left", va="center",
                fontsize=8.5, color="#404040", zorder=4)

    ax.set_xlim(5, 25)
    ax.set_ylim(0.08, n_tr + 0.92)
    ax.set_xticks(x_ticks)
    ax.set_xticks(range(5, 26), minor=True)
    ax.set_yticks(baselines)
    ax.set_yticklabels([])
    ax.tick_params(axis="y", length=0)
    ax.tick_params(axis="x", which="both", direction="in", length=3,
                   color="#bfbfbf", labelsize=9.5, labelcolor=text_grey, pad=9)
    ax.grid(True, which="major", color=grid_grey, linewidth=0.8)
    ax.set_axisbelow(True)
    for side in ("top", "left", "right"):
        ax.spines[side].set_visible(False)
    ax.spines["bottom"].set_color("#bfbfbf")
    ax.set_xlabel(x_label, fontsize=10, color=text_grey, labelpad=2)
    ax.set_ylabel("")
    ax.set_title(titles[k], fontsize=13.5, color=text_grey, pad=6)

fig.savefig("out.png", dpi=100, facecolor="white")
